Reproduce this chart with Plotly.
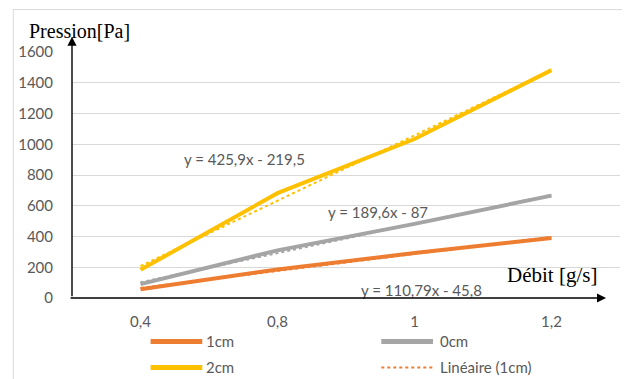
import numpy as np
import plotly.graph_objects as go

categories = ["0,4", "0,8", "1", "1,2"]
cm1 = [57, 186, 292, 390]
cm0 = [90, 310, 482, 666]
cm2 = [183, 682, 1034, 1482]
y_ticks = [0, 200, 400, 600, 800, 1000, 1200, 1400, 1600]

idx = np.arange(1, len(categories) + 1)

ORANGE = "#ED7D31"
GRAY = "#A5A5A5"
YELLOW = "#FFC000"
TXT = "#595959"

def fit(vals):
    a, b = np.polyfit(idx, vals, 1)
    return a, b

fig = go.Figure()

fig.add_trace(go.Scatter(x=idx, y=cm1, mode="lines", name="1cm",
                         line=dict(color=ORANGE, width=4)))
fig.add_trace(go.Scatter(x=idx, y=cm0, mode="lines", name="0cm",
                         line=dict(color=GRAY, width=4)))
fig.add_trace(go.Scatter(x=idx, y=cm2, mode="lines", name="2cm",
                         line=dict(color=YELLOW, width=4)))

for vals, col, name in [(cm1, ORANGE, "Linéaire (1cm)"),
                        (cm0, GRAY, "Linéaire (0cm)"),
                        (cm2, YELLOW, "Linéaire (2cm)")]:
    a, b = fit(vals)
    fig.add_trace(go.Scatter(x=idx, y=a * idx + b, mode="lines", name=name,
                             line=dict(color=col, width=2, dash="dot")))

EQF = dict(family="Lato", size=15, color=TXT)
LGF = dict(family="Lato", size=15, color=TXT)
annotations = [
    dict(x=1.762, y=904, xref="x", yref="y", text="y = 425,9x - 219,5",
         showarrow=False, font=EQF),
    dict(x=2.733, y=559, xref="x", yref="y", text="y = 189,6x - 87",
         showarrow=False, font=EQF),
    dict(x=3.05, y=50, xref="x", yref="y", text="y = 110,79x - 45,8",
         showarrow=False, font=EQF),
    # axis arrows
    dict(x=0.0, y=1.0623, xref="paper", yref="paper", ax=0, ay=261,
         axref="pixel", ayref="pixel", showarrow=True, arrowhead=2,
         arrowsize=1.3, arrowwidth=1.4, arrowcolor="#000000", text=""),
    dict(x=0.9746, y=0.0, xref="paper", yref="paper", ax=-537, ay=0,
         axref="pixel", ayref="pixel", showarrow=True, arrowhead=2,
         arrowsize=1.3, arrowwidth=1.4, arrowcolor="#000000", text=""),
    dict(x=-0.0816, y=1.0868, xref="paper", yref="paper", text="Pression[Pa]",
         showarrow=False, xanchor="left", yanchor="middle",
         font=dict(family="Liberation Serif", size=20, color="#000000")),
    dict(x=0.790, y=0.0925, xref="paper", yref="paper", text="Débit [g/s]",
         showarrow=False, xanchor="left", yanchor="middle",
         font=dict(family="Liberation Serif", size=21, color="#000000")),
]

# legend (drawn as shapes + text so it does not push the plot margins)
legend_items = [
    ("1cm", ORANGE, "solid", 5, 0.1434, 0.2377, 0.2414, -0.1766),
    ("0cm", GRAY, "solid", 5, 0.5644, 0.6588, 0.6679, -0.1766),
    ("2cm", YELLOW, "solid", 5, 0.1434, 0.2377, 0.2414, -0.2825),
    ("Linéaire (1cm)", ORANGE, "dot", 2, 0.5644, 0.6588, 0.6679, -0.2825),
]
shapes = [dict(type="rect", xref="paper", yref="paper",
               x0=-0.1071, x1=1.05, y0=-0.4, y1=1.1724,
               line=dict(color="#D9D9D9", width=1), layer="below")]
for label, col, dash, w, lx0, lx1, tx, ly in legend_items:
    shapes.append(dict(type="line", xref="paper", yref="paper",
                       x0=lx0, x1=lx1, y0=ly, y1=ly,
                       line=dict(color=col, width=w, dash=dash)))
    annotations.append(dict(x=tx, y=ly, xref="paper", yref="paper", text=label,
                            showarrow=False, xanchor="left", yanchor="middle",
                            font=LGF))

fig.update_layout(
    width=622, height=371,
    margin=dict(l=61, r=10, t=44, b=81),
    paper_bgcolor="white", plot_bgcolor="white",
    showlegend=False,
    annotations=annotations,
    shapes=shapes,
)
fig.update_xaxes(range=[0.5, 4.5], tickmode="array", tickvals=idx, ticktext=categories,
                 showgrid=False, zeroline=False, showline=False,
                 ticks="outside", ticklen=10, tickcolor="rgba(0,0,0,0)",
                 tickfont=dict(family="Lato", size=15, color=TXT))
fig.update_yaxes(range=[0, 1600], tickmode="array", tickvals=y_ticks,
                 showgrid=True, gridcolor="#D9D9D9", gridwidth=1, zeroline=False,
                 showline=False, ticks="outside", ticklen=15, tickcolor="rgba(0,0,0,0)",
                 tickfont=dict(family="Lato", size=15, color=TXT))

fig.write_html("out.html")
